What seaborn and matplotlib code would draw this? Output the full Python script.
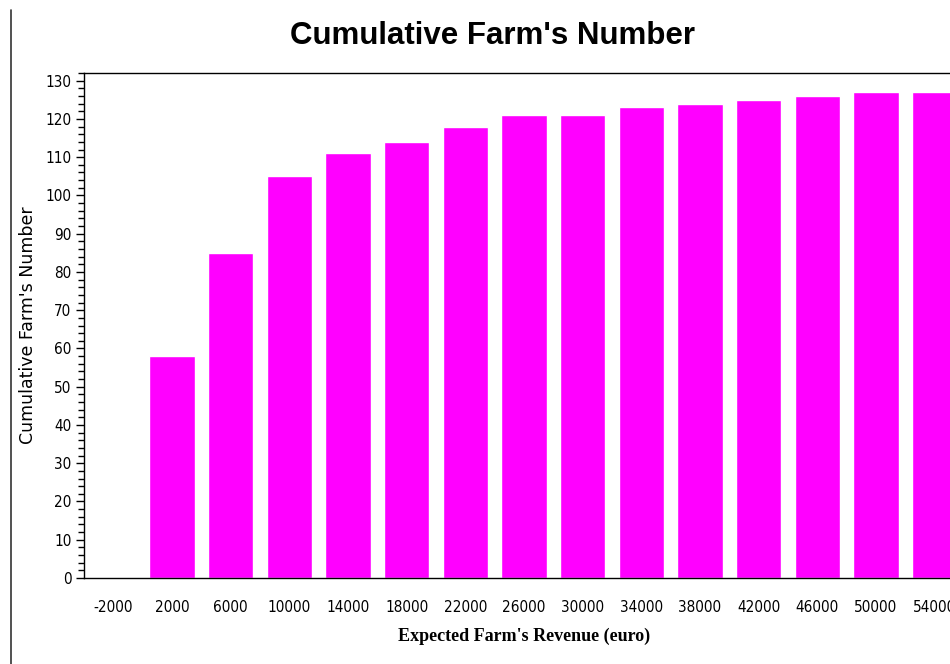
import matplotlib
matplotlib.use("Agg")
import matplotlib.pyplot as plt
import seaborn as sns
import pandas as pd
from matplotlib.ticker import MultipleLocator
from matplotlib.lines import Line2D

revenue = ["-2000", "2000", "6000", "10000", "14000", "18000", "22000", "26000",
           "30000", "34000", "38000", "42000", "46000", "50000", "54000"]
cum_farms = [0, 58, 85, 105, 111, 114, 118, 121, 121, 123, 124, 125, 126, 127, 127]

df = pd.DataFrame({"revenue": revenue, "farms": cum_farms})

sns.set_theme(style="white")
plt.rcParams["font.family"] = ["DejaVu Sans"]

fig = plt.figure(figsize=(9.5, 6.64), dpi=100)
ax = fig.add_axes([84/950, 86/664, 880/950, 505/664])

sns.barplot(data=df, x="revenue", y="farms", order=revenue, color="#FF00FF",
            saturation=1, width=0.77, ax=ax)

ax.set_xlim(-0.5, 14.5)
ax.set_ylim(0, 132)
ax.yaxis.set_major_locator(MultipleLocator(10))
ax.yaxis.set_minor_locator(MultipleLocator(2))

for s in ax.spines.values():
    s.set_color("black")
    s.set_linewidth(1.0)

ax.tick_params(axis="y", which="major", length=6, width=1, color="black",
               pad=3, left=True)
ax.tick_params(axis="y", which="minor", length=4, width=1, color="black", left=True)
ax.tick_params(axis="x", length=0, pad=16)
for lab in ax.get_xticklabels() + ax.get_yticklabels():
    lab.set_fontfamily("DejaVu Sans")
    lab.set_fontstretch("condensed")
    lab.set_fontsize(11)
    lab.set_color("black")

ax.set_xlabel("Expected Farm's Revenue (euro)", family="Liberation Serif",
              fontweight="bold", fontsize=13, labelpad=9, color="black")
ax.set_ylabel("Cumulative Farm's Number", family="DejaVu Sans",
              fontsize=12.5, labelpad=6, color="black")

fig.text(493/950, 1 - 36/664, "Cumulative Farm's Number", family="Liberation Sans",
         fontweight="bold", fontsize=22.5, ha="center", va="center", color="black")

fig.add_artist(Line2D([11/950, 11/950], [0, 1 - 10/664], transform=fig.transFigure,
                      color="#333333", linewidth=1.2))

fig.savefig("out.png", dpi=100)
